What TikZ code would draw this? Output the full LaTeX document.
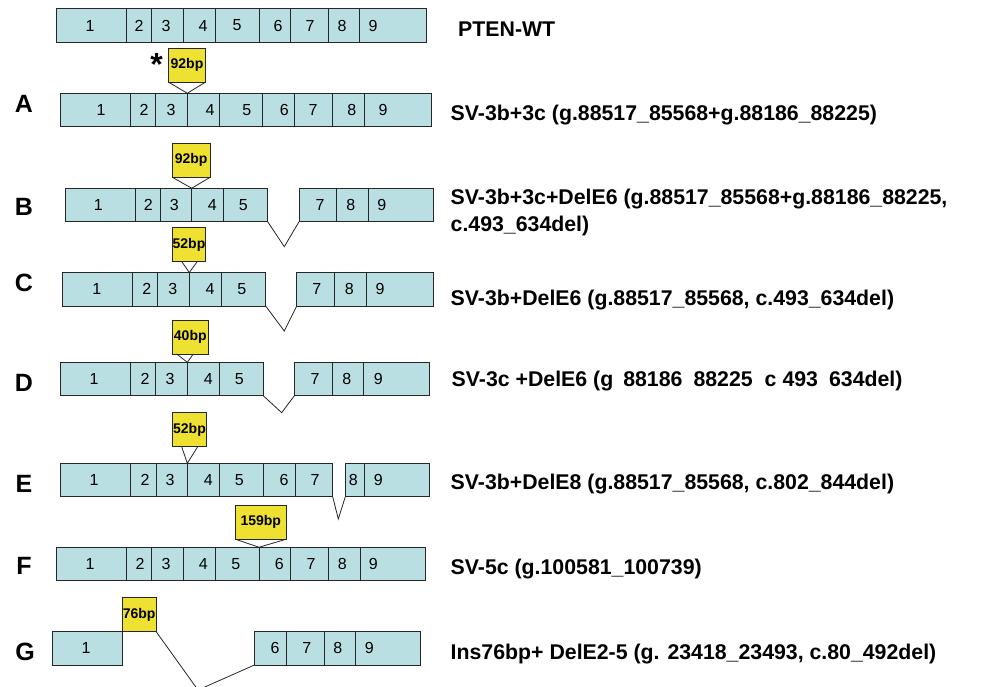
\documentclass[tikz,border=0pt]{standalone}
\usepackage{fontspec}
\setmainfont{Liberation Sans}
\usetikzlibrary{calc}
\definecolor{exonfill}{HTML}{BADFE2}
\definecolor{insfill}{HTML}{EEE131}
\definecolor{exonline}{HTML}{262626}
\tikzset{
  % exon maps
  exon/.style      = { draw=exonline, fill=exonfill, line width=0.8pt,
                       minimum height=33.5pt, inner sep=0pt, outer sep=0pt },
  exonnum/.style   = { font=\fontsize{16}{19}\selectfont, inner sep=0pt },
  insbox/.style    = { draw=exonline, fill=insfill, line width=0.8pt,
                       minimum height=34pt, inner sep=0pt, outer sep=0pt,
                       font=\fontsize{14}{16}\selectfont\bfseries },
  splice/.style    = { draw=exonline, line width=0.8pt },
  % labels
  rowletter/.style = { font=\fontsize{25}{30}\selectfont\bfseries, inner sep=0pt },
  varlabel/.style  = { font=\fontsize{21.3}{27}\selectfont\bfseries,
                       inner sep=0pt, anchor=base west }
}

\begin{document}
\begin{tikzpicture}[x=1pt, y=-1pt]
  \useasboundingbox (0,0) rectangle (988,686);

  % --- wild type ---------------------------------------------------
  \foreach \l/\r/\n/\lx in {56.7/126.7/1/90, 126.7/151.7/2/139, 151.7/183.3/3/166,
      183.3/215/4/203, 215/259/5/237, 259/290.7/6/278, 290.7/328.3/7/310,
      328.3/359.3/8/342, 359.3/426.7/9/373} {
    \node[exon, minimum width={(\r-\l)*1pt}] (wt\n) at ({(\l+\r)/2},25.5) {};
    \node[exonnum] (wtn\n) at (\lx,25.5) {\n};
  }
  \node[varlabel] (wtname) at (458,36.7) {PTEN-WT};

  % --- A -----------------------------------------------------------
  \foreach \l/\r/\n/\lx in {60.7/130/1/101, 130/155.7/2/144, 155.7/187.3/3/171,
      187.3/219/4/210, 219/262.7/5/246.7, 262.7/294.3/6/284.3, 294.3/332.3/7/313,
      332.3/364/8/351.7, 364/431.7/9/383} {
    \node[exon, minimum width={(\r-\l)*1pt}] (a\n) at ({(\l+\r)/2},110) {};
    \node[exonnum] (an\n) at (\lx,110) {\n};
  }
  \node[insbox, minimum width=37.4pt] (insA) at (187,65) {92bp};
  \draw[splice] (insA.south west) -- (a3.north east) -- (insA.south east);
  \node[font=\fontsize{32}{36}\selectfont\bfseries, inner sep=0pt, anchor=base]
    (star) at (156.7,75) {*};
  \node[rowletter] (lA) at (24,104) {A};
  \node[varlabel] (aname) at (450.5,120) {SV-3b+3c (g.88517\_85568+g.88186\_88225)};

  % --- B -----------------------------------------------------------
  \foreach \l/\r/\n/\lx in {65/135.7/1/98.3, 135.7/160/2/148.3, 160/191.7/3/174.3,
      191.7/223.3/4/212.3, 223.3/267.7/5/243.3, 299/336.7/7/320,
      336.7/368.3/8/350.7, 368.3/433.3/9/381.7} {
    \node[exon, minimum width={(\r-\l)*1pt}] (b\n) at ({(\l+\r)/2},205) {};
    \node[exonnum] (bn\n) at (\lx,205) {\n};
  }
  \node[insbox, minimum width=37.7pt] (insB) at (191.2,160.3) {92bp};
  \draw[splice] (insB.south west) -- (b3.north east) -- (insB.south east);
  \coordinate (bgap) at (284.3,246.7);
  \draw[splice] (b5.south east) -- (bgap) -- (b7.south west);
  \node[rowletter] (lB) at (24,207) {B};
  \node[varlabel] (bname) at (450.5,204) {SV-3b+3c+DelE6 (g.88517\_85568+g.88186\_88225,};
  \node[varlabel] (bname2) at (450.5,231) {c.493\_634del)};

  % --- C -----------------------------------------------------------
  \foreach \l/\r/\n/\lx in {62.7/132.7/1/96.7, 132.7/157.7/2/146.7, 157.7/189.3/3/172.7,
      189.3/221/4/210, 221/265.7/5/241.7, 296.7/334.3/7/316.7,
      334.3/366/8/349.3, 366/433.3/9/380} {
    \node[exon, minimum width={(\r-\l)*1pt}] (c\n) at ({(\l+\r)/2},289.3) {};
    \node[exonnum] (cn\n) at (\lx,289.3) {\n};
  }
  \node[insbox, minimum width=33.4pt] (insC) at (189,244.5) {52bp};
  \draw[splice] ([xshift=9.4pt]insC.south west) -- (c3.north east)
    -- ([xshift=-8.4pt]insC.south east);
  \coordinate (cgap) at (284.3,331);
  \draw[splice] (c5.south east) -- (cgap) -- (c7.south west);
  \node[rowletter] (lC) at (24,283) {C};
  \node[varlabel] (cname) at (450.5,305) {SV-3b+DelE6 (g.88517\_85568, c.493\_634del)};

  % --- D -----------------------------------------------------------
  \foreach \l/\r/\n/\lx in {60.7/130.7/1/94, 130.7/155.7/2/145, 155.7/187.3/3/170,
      187.3/219/4/208.3, 219/263.3/5/239.3, 294.3/332.3/7/315,
      332.3/363.3/8/346.7, 363.3/429/9/378.3} {
    \node[exon, minimum width={(\r-\l)*1pt}] (d\n) at ({(\l+\r)/2},379) {};
    \node[exonnum] (dn\n) at (\lx,379) {\n};
  }
  \node[insbox, minimum width=36pt] (insD) at (190.3,337) {40bp};
  \draw[splice] ([xshift=4.4pt]insD.south west) -- (d3.north east)
    -- ([xshift=-15pt]insD.south east);
  \coordinate (dgap) at (281.7,412.7);
  \draw[splice] (d5.south east) -- (dgap) -- (d7.south west);
  \node[rowletter] (lD) at (24,383) {D};
  \node[varlabel] (dname) at (451.5,386.7)
    {SV-3c +DelE6 (g\hspace{10pt}88186\hspace{11pt}88225\hspace{12pt}c\hspace{6pt}493\hspace{11pt}634del)};

  % --- E -----------------------------------------------------------
  \foreach \l/\r/\n/\lx in {60.7/130.7/1/94, 130.7/156/2/145, 156/187.3/3/170,
      187.3/219/4/208.3, 219/263.3/5/239.3, 263.3/295/6/284, 295/332.7/7/315,
      345.3/364/8/353.3, 364/429/9/378.3} {
    \node[exon, minimum width={(\r-\l)*1pt}] (e\n) at ({(\l+\r)/2},480) {};
    \node[exonnum] (en\n) at (\lx,480) {\n};
  }
  \node[insbox, minimum width=34.4pt] (insE) at (189.5,429.7) {52bp};
  \draw[splice] ([xshift=9.4pt]insE.south west) -- (e3.north east)
    -- ([xshift=-9pt]insE.south east);
  \coordinate (egap) at (338.3,519);
  \draw[splice] (e7.south east) -- (egap) -- (e8.south west);
  \node[rowletter] (lE) at (24,484) {E};
  \node[varlabel] (ename) at (450.5,489.3) {SV-3b+DelE8 (g.88517\_85568, c.802\_844del)};

  % --- F -----------------------------------------------------------
  \foreach \l/\r/\n/\lx in {56.7/126.7/1/90, 126.7/151.7/2/140, 151.7/183.3/3/166,
      183.3/215/4/203.3, 215/259/5/235.7, 259/290.7/6/279.3, 290.7/328.3/7/311,
      328.3/360/8/342.3, 360/425/9/373.3} {
    \node[exon, minimum width={(\r-\l)*1pt}] (f\n) at ({(\l+\r)/2},564) {};
    \node[exonnum] (fn\n) at (\lx,564) {\n};
  }
  \node[insbox, minimum width=50.3pt] (insF) at (260.8,522.3) {159bp};
  \draw[splice] (insF.south west) -- (f5.north east) -- (insF.south east);
  \node[rowletter] (lF) at (24,566) {F};
  \node[varlabel] (fname) at (450.5,574) {SV-5c (g.100581\_100739)};

  % --- G -----------------------------------------------------------
  \foreach \l/\r/\n/\lx in {52.7/122.3/1/86, 254.3/286/6/275, 286/324/7/306.7,
      324/355.7/8/337.7, 355.7/420.7/9/369.3} {
    \node[exon, minimum width={(\r-\l)*1pt}] (g\n) at ({(\l+\r)/2},648.3) {};
    \node[exonnum] (gn\n) at (\lx,648.3) {\n};
  }
  \node[insbox, minimum width=33.7pt] (insG) at (139.2,614.5) {76bp};
  \coordinate (ggap) at (198,690);
  \draw[splice] (insG.south east) -- (ggap) -- (g6.south west);
  \node[rowletter] (lG) at (25,652) {G};
  \node[varlabel] (gname) at (450.5,659) {Ins76bp+ DelE2-5 (g. 23418\_23493, c.80\_492del)};

\end{tikzpicture}
\end{document}
